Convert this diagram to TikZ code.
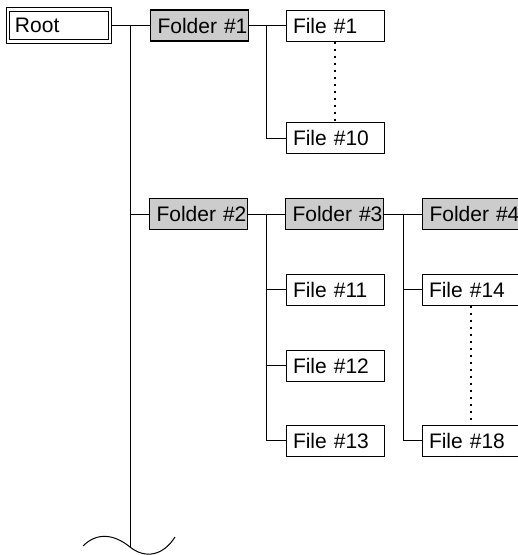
\documentclass[tikz,border=0pt]{standalone}
\usepackage{fontspec}
\setmainfont{Liberation Sans}
\definecolor{foldergray}{HTML}{CCCCCC}
\begin{document}
\begin{tikzpicture}[x=1pt,y=-1pt,
  box/.style={draw=black, line width=1pt, rectangle, minimum height=31pt,
    text width=84pt, inner xsep=7pt, inner ysep=0pt, align=left,
    font=\fontsize{21}{24}\selectfont},
  folder/.style={box, fill=foldergray, line width=1.8pt},
  conn/.style={draw=black, line width=1pt},
  dots/.style={draw=black, line width=2pt, dash pattern=on 2pt off 5pt}]
\useasboundingbox (0,0) rectangle (518,555);
\begin{scope}
\clip (0,0) rectangle (518,555);
% nodes
\node[draw=black, line width=1pt, double, double distance=2.5pt, rectangle,
  minimum width=102pt, minimum height=32pt, text width=88pt, inner xsep=7pt,
  align=left, font=\fontsize{21}{24}\selectfont] (root) at (59,25.5) {Root};
\node[folder] (f1) at (199.5,25.5) {\mbox{Folder \#1}};
\node[box] (file1) at (335,25.5) {\mbox{File \#1}};
\node[box] (file10) at (335,138) {\mbox{File \#10}};
\node[folder] (f2) at (198.5,214) {\mbox{Folder \#2}};
\node[folder] (f3) at (334.5,214) {\mbox{Folder \#3}};
\node[folder] (f4) at (471.5,214) {\mbox{Folder \#4}};
\node[box] (file11) at (335,289.5) {\mbox{File \#11}};
\node[box] (file12) at (335,365.5) {\mbox{File \#12}};
\node[box] (file13) at (335,440.5) {\mbox{File \#13}};
\node[box] (file14) at (471,289.5) {\mbox{File \#14}};
\node[box] (file18) at (471,440.5) {\mbox{File \#18}};
% junction coordinates
\coordinate (ttop) at (130,25.5);
\coordinate (tbot) at (130,547);
\coordinate (j1) at (266,25.5);
\coordinate (j2) at (266,214);
\coordinate (j3) at (403,214);
% connectors
\draw[conn] (root.east) -- (f1.west);
\draw[conn] (ttop) -- (tbot);
\draw[conn] (ttop |- f2.west) -- (f2.west);
\draw[conn] (f1.east) -- (file1.west);
\draw[conn] (j1) |- (file10.west);
\draw[dots] (file1.south) -- (file10.north);
\draw[conn] (f2.east) -- (f3.west);
\draw[conn] (j2) |- (file13.west);
\draw[conn] (j2 |- file11.west) -- (file11.west);
\draw[conn] (j2 |- file12.west) -- (file12.west);
\draw[conn] (f3.east) -- (f4.west);
\draw[conn] (j3) |- (file18.west);
\draw[conn] (j3 |- file14.west) -- (file14.west);
\draw[dots] (file14.south) -- (file18.north);
% wave break
\draw[conn] (83,546) .. controls (97,532) and (114,534) .. (tbot)
  .. controls (145,559) and (163,556) .. (175,537);
\end{scope}
\end{tikzpicture}
\end{document}
